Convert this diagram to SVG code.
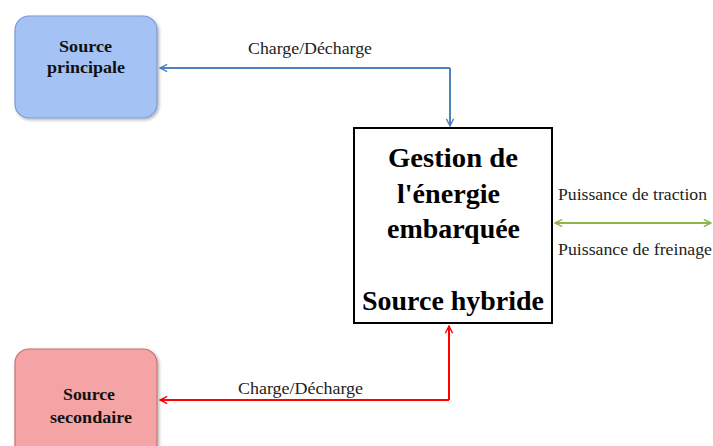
<svg xmlns="http://www.w3.org/2000/svg" width="713" height="446" viewBox="0 0 713 446">
<defs>
<style>
.lbl{font-family:"Liberation Serif",serif;font-size:16px;fill:#222}
.src{font-family:"Liberation Serif",serif;font-size:16px;font-weight:bold;fill:#111}
.big{font-family:"Liberation Serif",serif;font-size:27px;font-weight:bold;fill:#000}
</style>
<marker id="ab" viewBox="0 0 10 10" refX="9" refY="5" markerWidth="9" markerHeight="9" markerUnits="userSpaceOnUse" orient="auto-start-reverse"><path d="M1,1 L9,5 L1,9" fill="none" stroke="#4f81bd" stroke-width="1.6"/></marker>
<marker id="ar" viewBox="0 0 10 10" refX="9" refY="5" markerWidth="9" markerHeight="9" markerUnits="userSpaceOnUse" orient="auto-start-reverse"><path d="M1,1 L9,5 L1,9" fill="none" stroke="#ff0000" stroke-width="1.6"/></marker>
<marker id="ag" viewBox="0 0 10 10" refX="9" refY="5" markerWidth="9" markerHeight="9" markerUnits="userSpaceOnUse" orient="auto-start-reverse"><path d="M1,1 L9,5 L1,9" fill="none" stroke="#8db54e" stroke-width="1.6"/></marker>
<filter id="sh" x="-10%" y="-10%" width="130%" height="130%"><feDropShadow dx="1.5" dy="1.5" stdDeviation="1.5" flood-opacity="0.3"/></filter>
</defs>
<rect width="713" height="446" fill="#fff"/>
<g id="connectors" fill="none" stroke-width="2">
<path d="M450,68 L450,126" stroke="#4f81bd" marker-end="url(#ab)"/>
<path d="M450,68 L160,68" stroke="#4f81bd" marker-end="url(#ab)"/>
<path d="M449,400 L449,326" stroke="#ff0000" marker-end="url(#ar)"/>
<path d="M449,400 L160,400" stroke="#ff0000" marker-end="url(#ar)"/>
<path d="M555,223 L711,223" stroke="#8db54e" marker-start="url(#ag)" marker-end="url(#ag)"/>
<text class="lbl" x="248" y="54" textLength="124" lengthAdjust="spacingAndGlyphs">Charge/Décharge</text>
<text class="lbl" x="238" y="394" textLength="125" lengthAdjust="spacingAndGlyphs">Charge/Décharge</text>
<text class="lbl" x="558" y="200" textLength="149" lengthAdjust="spacingAndGlyphs">Puissance de traction</text>
<text class="lbl" x="558" y="255" textLength="154" lengthAdjust="spacingAndGlyphs">Puissance de freinage</text>
</g>
<g id="source-principale">
<rect x="15" y="16" width="142" height="102" rx="14" fill="#a4c2f4" stroke="#7a9bd6" stroke-width="1.2" filter="url(#sh)"/>
<text class="src" x="59" y="52" textLength="53" lengthAdjust="spacingAndGlyphs">Source</text>
<text class="src" x="47" y="73" textLength="78" lengthAdjust="spacingAndGlyphs">principale</text>
</g>
<g id="gestion">
<rect x="354" y="128" width="198" height="195" fill="#fff" stroke="#000" stroke-width="2"/>
<text class="big" x="388" y="167" textLength="130" lengthAdjust="spacingAndGlyphs">Gestion de</text>
<text class="big" x="397" y="203" textLength="103" lengthAdjust="spacingAndGlyphs">l'énergie</text>
<text class="big" x="387" y="238" textLength="133" lengthAdjust="spacingAndGlyphs">embarquée</text>
<text class="big" x="362" y="310" textLength="182" lengthAdjust="spacingAndGlyphs">Source hybride</text>
</g>
<g id="source-secondaire">
<rect x="15" y="349" width="142" height="110" rx="14" fill="#f4a4a4" stroke="#c87070" stroke-width="1.2" filter="url(#sh)"/>
<text class="src" x="63" y="400" textLength="52" lengthAdjust="spacingAndGlyphs">Source</text>
<text class="src" x="50" y="423" textLength="82" lengthAdjust="spacingAndGlyphs">secondaire</text>
</g>
</svg>
